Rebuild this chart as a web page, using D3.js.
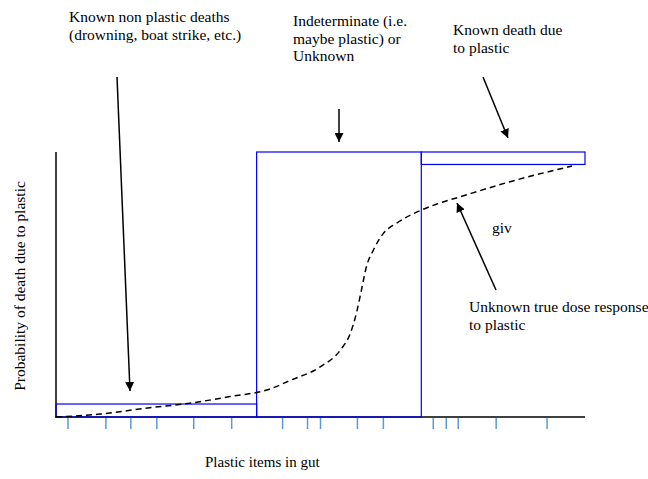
<!DOCTYPE html>
<html>
<head>
<meta charset="utf-8">
<script src="https://cdn.jsdelivr.net/npm/d3@7"></script>
<style>
  body { margin: 0; background: #fff; }
  text { font-family: "Liberation Serif", "Times New Roman", serif; fill: #000; }
</style>
</head>
<body>
<div class="chart"></div>
<script>
// plastic items in gut (rug marks along x axis)
var itemCounts = [1.2, 5, 7.5, 10.1, 13.8, 17.6, 22.7, 25.2, 26.5, 30.2, 32.8, 37.8, 39.1, 40.3, 44.1, 49.2];
// assumed dose response curve
var curveX = [0, 4.4, 9.4, 13.4, 17.4, 21.4, 23.4, 26.5, 28.5, 29.5, 30.1, 30.6, 31.1, 31.8, 32.8, 34.1, 36.6, 38.1, 40.5, 45.5, 51.7];
var curveY = [0, 0.011, 0.035, 0.052, 0.077, 0.105, 0.137, 0.19, 0.253, 0.317, 0.392, 0.479, 0.567, 0.63, 0.693, 0.731, 0.781, 0.803, 0.831, 0.888, 0.947];
// cause of death categories (x from, x to, y from, y to)
var boxNames = ["non plastic", "indeterminate", "plastic"];
var boxX0 = [0, 20.1, 36.6];
var boxX1 = [20.1, 36.6, 53];
var boxY0 = [0, 0, 0.953];
var boxY1 = [0.049, 1, 1];

var svgWidth = 648, svgHeight = 479;
var margin = {top: 152, right: 63, bottom: 62, left: 56};
var width = svgWidth - margin.left - margin.right;
var height = svgHeight - margin.top - margin.bottom;

var svg = d3.select(".chart").append("svg")
  .attr("width", svgWidth)
  .attr("height", svgHeight);

var defs = svg.append("defs");
defs.append("marker")
  .attr("id", "head")
  .attr("viewBox", "0 0 10 10")
  .attr("refX", 10).attr("refY", 5)
  .attr("markerWidth", 6).attr("markerHeight", 6)
  .attr("markerUnits", "strokeWidth")
  .attr("orient", "auto")
  .append("path").attr("d", "M0,0 L10,5 L0,10 Z").attr("fill", "#000");

var chartGroup = svg.append("g")
  .attr("transform", `translate(${margin.left}, ${margin.top})`);

var xScale = d3.scaleLinear().domain([0, 53]).range([0, width]);
var yScale = d3.scaleLinear().domain([0, 1]).range([height, 0]);

// axes (plain lines, no tick labels)
chartGroup.append("line")
  .attr("x1", xScale(0)).attr("x2", xScale(0))
  .attr("y1", yScale(0)).attr("y2", yScale(1))
  .attr("stroke", "#000").attr("stroke-width", 1.5);
chartGroup.append("line")
  .attr("x1", xScale(0) - 1).attr("x2", xScale(53))
  .attr("y1", yScale(0)).attr("y2", yScale(0))
  .attr("stroke", "#000").attr("stroke-width", 1.5);

// rug marks
chartGroup.selectAll(".rug").data(itemCounts).enter()
  .append("line").attr("class", "rug")
  .attr("x1", d => xScale(d)).attr("x2", d => xScale(d))
  .attr("y1", yScale(0) + 1).attr("y2", yScale(0) + 12)
  .attr("stroke", "#5b9bd5").attr("stroke-width", 1.5);

// category boxes
chartGroup.selectAll(".box").data(boxNames).enter()
  .append("rect").attr("class", "box")
  .attr("x", (d, i) => xScale(boxX0[i]))
  .attr("y", (d, i) => yScale(boxY1[i]))
  .attr("width", (d, i) => xScale(boxX1[i]) - xScale(boxX0[i]))
  .attr("height", (d, i) => yScale(boxY0[i]) - yScale(boxY1[i]))
  .attr("fill", "none")
  .attr("stroke", "#0000ff").attr("stroke-width", 1.2);

// dose response curve
var line = d3.line()
  .x((d, i) => xScale(curveX[i]))
  .y(d => yScale(d))
  .curve(d3.curveMonotoneX);
chartGroup.append("path")
  .attr("d", line(curveY))
  .attr("fill", "none")
  .attr("stroke", "#000").attr("stroke-width", 1.5)
  .attr("stroke-dasharray", "6,4");

// annotation arrows
var arrows = [
  [117, 77, 130, 391],
  [339, 109, 339, 142],
  [483, 77, 508, 138],
  [496, 290, 457, 203]
];
svg.selectAll(".arrow").data(arrows).enter()
  .append("line").attr("class", "arrow")
  .attr("x1", d => d[0]).attr("y1", d => d[1])
  .attr("x2", d => d[2]).attr("y2", d => d[3])
  .attr("stroke", "#000").attr("stroke-width", 1.5)
  .attr("marker-end", "url(#head)");

// annotation text
var notes = [
  {x: 69, y: 22, lines: ["Known non plastic deaths", "(drowning, boat strike, etc.)"]},
  {x: 293, y: 26, lines: ["Indeterminate (i.e.", "maybe plastic) or", "Unknown"]},
  {x: 453, y: 35, lines: ["Known death due", "to plastic"]},
  {x: 492, y: 233, lines: ["giv"]},
  {x: 469, y: 312, lines: ["Unknown true dose response", "to plastic"]}
];
notes.forEach(function(n) {
  var t = svg.append("text").attr("x", n.x).attr("y", n.y).style("font-size", "15.5px");
  n.lines.forEach(function(l, i) {
    t.append("tspan").attr("x", n.x).attr("dy", i === 0 ? 0 : 17.5).text(l);
  });
});

svg.append("text")
  .attr("x", 205).attr("y", 467)
  .style("font-size", "15px")
  .text("Plastic items in gut");

svg.append("text")
  .attr("transform", "translate(25, 286) rotate(-90)")
  .attr("text-anchor", "middle")
  .style("font-size", "15.5px")
  .text("Probability of death due to plastic");
</script>
</body>
</html>
